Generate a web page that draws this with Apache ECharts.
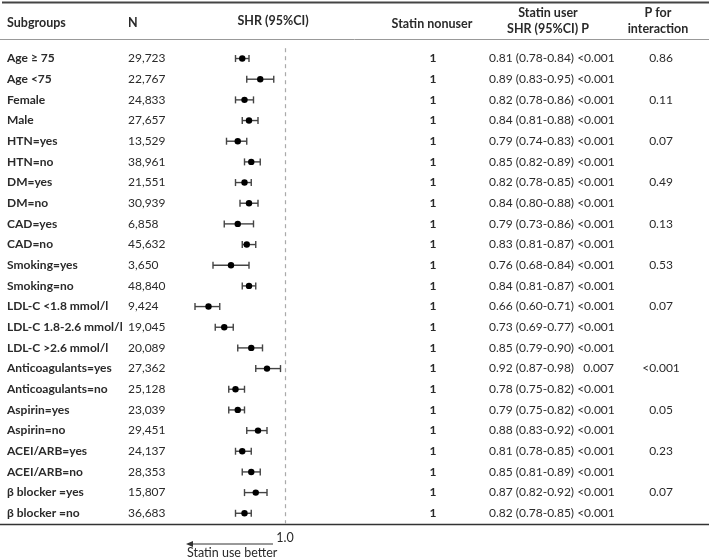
<!DOCTYPE html>
<html>
<head>
<meta charset="utf-8">
<script src="https://cdn.jsdelivr.net/npm/echarts@6/dist/echarts.min.js"></script>
<style>
html,body{margin:0;padding:0;background:#fff;}
#chart{width:709px;height:560px;}
</style>
</head>
<body>
<div id="chart"></div>
<script>
const subgroups = ["Age \u2265 75","Age <75","Female","Male","HTN=yes","HTN=no","DM=yes","DM=no","CAD=yes","CAD=no","Smoking=yes","Smoking=no","LDL-C <1.8 mmol/l","LDL-C 1.8-2.6 mmol/l","LDL-C >2.6 mmol/l","Anticoagulants=yes","Anticoagulants=no","Aspirin=yes","Aspirin=no","ACEI/ARB=yes","ACEI/ARB=no","\u03b2 blocker =yes","\u03b2 blocker =no"];
const nValues = ["29,723","22,767","24,833","27,657","13,529","38,961","21,551","30,939","6,858","45,632","3,650","48,840","9,424","19,045","20,089","27,362","25,128","23,039","29,451","24,137","28,353","15,807","36,683"];
const shr   = [0.81,0.89,0.82,0.84,0.79,0.85,0.82,0.84,0.79,0.83,0.76,0.84,0.66,0.73,0.85,0.92,0.78,0.79,0.88,0.81,0.85,0.87,0.82];
const ciLow = [0.78,0.83,0.78,0.81,0.74,0.82,0.78,0.80,0.73,0.81,0.68,0.81,0.60,0.69,0.79,0.87,0.75,0.75,0.83,0.78,0.81,0.82,0.78];
const ciHigh= [0.84,0.95,0.86,0.88,0.83,0.89,0.85,0.88,0.86,0.87,0.84,0.87,0.71,0.77,0.90,0.98,0.82,0.82,0.92,0.85,0.89,0.92,0.85];
const pValues = ["<0.001","<0.001","<0.001","<0.001","<0.001","<0.001","<0.001","<0.001","<0.001","<0.001","<0.001","<0.001","<0.001","<0.001","<0.001","  0.007","<0.001","<0.001","<0.001","<0.001","<0.001","<0.001","<0.001"];
const nonuserRef = ["1","1","1","1","1","1","1","1","1","1","1","1","1","1","1","1","1","1","1","1","1","1","1"];
const pInteraction = ["0.86","","0.11","","0.07","","0.49","","0.13","","0.53","","0.07","","","<0.001","","0.05","","0.23","","0.07",""];
const xTickLabels = {"1": "1.0"};

const FONT = 'Lato';
const TXT = '#2a2a2a';
const userText = shr.map((v,i)=> v.toFixed(2)+' ('+ciLow[i].toFixed(2)+'-'+ciHigh[i].toFixed(2)+') '+pValues[i]);

const gridLeft = 183.75, gridWidth = 112.5, gridTop = 48.2, gridHeight = 475.4;
const gridRightX = gridLeft + gridWidth;

function colAxis(labels, x, opts){
  const right = x > gridRightX;
  return {
    type:'category', data:labels, inverse:true, gridIndex:0,
    position: right ? 'right' : 'left',
    offset: right ? (x - gridRightX) : (gridLeft - x),
    axisLine:{show:false}, axisTick:{show:false}, splitLine:{show:false},
    axisLabel:{show:true, margin:0, align: opts.align||'left', interval:0,
      fontFamily:FONT, fontSize:12, color:TXT, fontWeight: opts.bold?'bold':'normal'}
  };
}

const chart = echarts.init(document.getElementById('chart'), null, {renderer:'canvas'});
const data = shr.map((v,i)=>[i, v, ciLow[i], ciHigh[i]]);
const HF = 'bold 12.5px '+FONT;

const option = {
  animation:false,
  backgroundColor:'#fff',
  grid:{left:gridLeft, width:gridWidth, top:gridTop, height:gridHeight, containLabel:false},
  xAxis:{type:'value', min:0.55, max:1.05, interval:0.05,
    axisLine:{show:false}, axisTick:{show:false}, splitLine:{show:false},
    axisLabel:{margin:8, fontFamily:FONT, fontSize:12.5, color:TXT,
      formatter:v=> (Math.abs(v-1)<1e-6 ? xTickLabels["1"] : '')}},
  yAxis:[
    {type:'category', data:subgroups, inverse:true, show:false},
    colAxis(subgroups, 7, {bold:true}),
    colAxis(nValues, 128, {}),
    colAxis(nonuserRef, 433, {bold:true, align:'center'}),
    colAxis(userText, 489, {}),
    colAxis(pInteraction, 661, {align:'center'})
  ],
  series:[{
    type:'custom',
    xAxisIndex:0, yAxisIndex:0,
    encode:{x:[1,2,3], y:0},
    data:data,
    renderItem:function(params, api){
      const idx = api.value(0);
      const c = api.coord([api.value(1), idx]);
      const lo = api.coord([api.value(2), idx]);
      const hi = api.coord([api.value(3), idx]);
      const h = 3.5;
      const st = {stroke:'#444', lineWidth:1.4};
      return {type:'group', children:[
        {type:'line', shape:{x1:lo[0], y1:c[1], x2:hi[0], y2:c[1]}, style:st},
        {type:'line', shape:{x1:lo[0], y1:c[1]-h, x2:lo[0], y2:c[1]+h}, style:st},
        {type:'line', shape:{x1:hi[0], y1:c[1]-h, x2:hi[0], y2:c[1]+h}, style:st},
        {type:'circle', shape:{cx:c[0], cy:c[1], r:3.2}, style:{fill:'#000'}}
      ]};
    },
    markLine:{silent:true, symbol:'none', label:{show:false},
      lineStyle:{type:[4,4], color:'#aaa', width:1.2},
      data:[{xAxis:1}]}
  }],
  graphic:[
    {type:'line', shape:{x1:2, y1:2.5, x2:709, y2:2.5}, style:{stroke:'#444', lineWidth:2}},
    {type:'line', shape:{x1:0, y1:39.5, x2:709, y2:39.5}, style:{stroke:'#999', lineWidth:1}},
    {type:'line', shape:{x1:0, y1:524.5, x2:709, y2:524.5}, style:{stroke:'#333', lineWidth:1.5}},
    {type:'text', x:7, y:23, style:{text:'Subgroups', font:HF, fill:TXT, textVerticalAlign:'middle'}},
    {type:'text', x:128, y:23, style:{text:'N', font:HF, fill:TXT, textVerticalAlign:'middle'}},
    {type:'text', x:273, y:21, style:{text:'SHR (95%CI)', font:HF, fill:TXT, textAlign:'center', textVerticalAlign:'middle'}},
    {type:'text', x:432, y:24, style:{text:'Statin nonuser', font:HF, fill:TXT, textAlign:'center', textVerticalAlign:'middle'}},
    {type:'text', x:548, y:13, style:{text:'Statin user', font:HF, fill:TXT, textAlign:'center', textVerticalAlign:'middle'}},
    {type:'text', x:548, y:29, style:{text:'SHR (95%CI) P', font:HF, fill:TXT, textAlign:'center', textVerticalAlign:'middle'}},
    {type:'text', x:658, y:13, style:{text:'P for', font:HF, fill:TXT, textAlign:'center', textVerticalAlign:'middle'}},
    {type:'text', x:658, y:29, style:{text:'interaction', font:HF, fill:TXT, textAlign:'center', textVerticalAlign:'middle'}},
    {type:'line', shape:{x1:190, y1:544, x2:273, y2:544}, style:{stroke:'#333', lineWidth:1}},
    {type:'polygon', shape:{points:[[186,544],[193,541],[193,547]]}, style:{fill:'#333'}},
    {type:'text', x:187, y:553, style:{text:'Statin use better', font:'12.5px '+FONT, fill:TXT, textVerticalAlign:'middle'}}
  ]
};
chart.setOption(option);
</script>
</body>
</html>
